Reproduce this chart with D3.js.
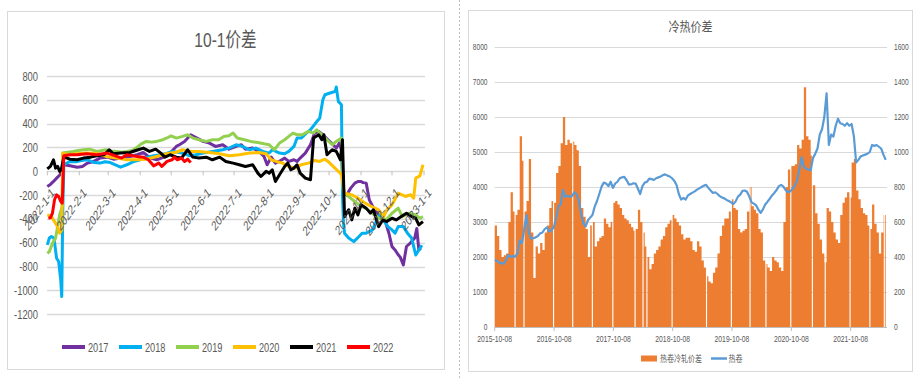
<!DOCTYPE html>
<html><head><meta charset="utf-8">
<script src="https://cdn.jsdelivr.net/npm/d3@7"></script>
<style>
body{margin:0;background:#fff}
svg{display:block}
text{font-family:"Liberation Sans","Noto Sans CJK SC",sans-serif;fill:#595959}
</style>
</head><body>
<svg id="c" width="920" height="380"></svg>
<script>
// ---------------- LEFT CHART DATA (10-1价差) ----------------
// [day offset from 2022-01-01, value]
const leftTitle = "10-1价差";
const years = ["2017","2018","2019","2020","2021","2022"];
const leftYTicks = [800,600,400,200,0,-200,-400,-600,-800,-1000,-1200];
const s2017 = [[0,-128],[3,-110],[6,-85],[10,-49],[12,-30],[13.5,-15],[15,40],[16,55],[22,46],[29,35],[34,41],[39,69],[45,83],[51,111],[58,119],[64,102],[72,111],[80,125],[87,139],[93,158],[100,111],[106,97],[113,119],[119,153],[125,209],[128,223],[133,251],[139,307],[145,279],[151,251],[157,237],[163,209],[170,223],[176,186],[183,209],[188,223],[192,186],[199,195],[205,167],[210,125],[213,55],[217,119],[221,69],[226,91],[230,111],[234,83],[239,97],[242,83],[245,111],[250,153],[255,223],[259,321],[263,335],[267,307],[272,265],[277,223],[280,195],[283,237],[285,181],[287,-180],[290,-200],[294,-141],[298,-99],[301,-85],[304,-85],[306,-95],[309,-99],[312,-240],[317,-323],[323,-380],[328,-436],[331,-520],[334,-632],[337,-660],[340,-700],[342,-720],[345,-786],[348,-631],[352,-600],[356,-560],[358,-480],[360,-660],[362,-645]];
const s2018 = [[0,-617],[2,-560],[4,-547],[6.5,-561],[9,-729],[11,-757],[13,-911],[14,-1051],[15,-323],[16,55],[22,83],[28,80],[33,91],[39,97],[45,74],[51,69],[56,80],[61,74],[66,55],[71,35],[77,55],[84,83],[90,97],[97,119],[103,130],[110,139],[116,153],[121,167],[128,158],[134,145],[138,130],[144,139],[151,153],[160,167],[170,181],[176,195],[183,223],[189,209],[196,181],[202,195],[209,167],[215,153],[218,181],[225,153],[230,147],[234,167],[239,209],[242,279],[246,279],[251,321],[255,349],[260,405],[264,447],[267,601],[269,643],[274,657],[279,671],[280,707],[282,587],[285,559],[286,-200],[287,-435],[288,-519],[292,-560],[297,-590],[302,-547],[305,-520],[309,-519],[315,-492],[318,-435],[321,-380],[324,-352],[327,-422],[330,-464],[334,-492],[337,-519],[340,-464],[345,-464],[349,-519],[353,-560],[357,-702],[360,-660],[363,-620]];
const s2019 = [[0,-687],[2,-674],[5,-603],[8,-561],[10,-463],[12,-365],[14.5,-296],[15,153],[20,160],[25,167],[30,175],[35,181],[41,186],[48,167],[53,175],[57,181],[62,170],[67,167],[72,160],[77,167],[82,175],[86,195],[91,230],[96,251],[101,245],[106,251],[112,265],[116,280],[120,298],[125,279],[131,293],[136,307],[141,279],[147,265],[154,251],[160,265],[166,265],[171,293],[176,298],[180,321],[184,279],[191,265],[197,251],[204,242],[210,231],[215,223],[220,181],[225,237],[230,265],[234,293],[238,321],[242,307],[247,307],[253,335],[258,321],[261,349],[266,307],[271,265],[276,223],[280,251],[285,279],[286.5,-150],[288,-183],[292,-211],[296,-240],[302,-282],[308,-309],[315,-352],[321,-394],[328,-408],[334,-352],[340,-309],[344,-380],[350,-352],[357,-366],[361,-394],[364,-380]];
const s2020 = [[0,-366],[4,-380],[7,-422],[10,-464],[12,-520],[14,-492],[15,153],[20,139],[28,147],[38,153],[48,150],[57,125],[67,111],[77,97],[86,97],[96,102],[106,125],[115,147],[125,160],[131,181],[138,167],[147,167],[157,158],[167,147],[176,130],[186,139],[196,153],[205,158],[212,147],[217,97],[222,83],[228,69],[234,41],[241,27],[246,55],[253,69],[259,91],[264,83],[269,102],[272,83],[277,41],[282,0],[285,-29],[288,-183],[295,-197],[301,-225],[308,-267],[314,-295],[321,-323],[326,-380],[329,-323],[334,-281],[340,-183],[347,-211],[352,-197],[355,-225],[357,-57],[361,-38],[364,55]];
const s2021 = [[0,20],[3,41],[6,97],[8,27],[10,41],[12,0],[13.5,13],[16,119],[22,102],[29,97],[35,111],[42,119],[48,130],[55,139],[60,181],[64,147],[71,153],[80,158],[88,181],[93,195],[99,167],[105,186],[110,153],[114,119],[119,139],[125,119],[130,111],[136,181],[141,119],[147,111],[154,119],[160,97],[167,119],[173,83],[180,69],[186,55],[192,41],[199,55],[204,-15],[207,-43],[212,0],[215,-15],[218,13],[221,-85],[225,-29],[230,41],[233,69],[236,13],[239,27],[242,55],[245,-15],[250,-57],[255,-71],[258,279],[263,307],[266,265],[268,307],[271,139],[276,181],[280,167],[284,97],[286,265],[288,-380],[292,-323],[295,-408],[298,-309],[301,-366],[304,-281],[309,-309],[313,-351],[316,-323],[321,-464],[325,-408],[329,-422],[334,-394],[338,-408],[343,-380],[348,-352],[353,-380],[357,-394],[360,-450],[364,-422]];
const s2022 = [[1,-393],[3,-390],[5,-351],[7,-239],[9,-197],[11,-211],[13,-253],[14.5,-267],[16,130],[22,139],[29,139],[38,147],[48,139],[58,153],[66,130],[72,111],[77,139],[87,125],[93,119],[98,97],[103,46],[108,69],[111,41],[116,83],[121,97],[123,119],[126,97],[130,111],[133,83],[136,102],[139,74]];
const leftSeries = [s2017,s2018,s2019,s2020,s2021,s2022];

// ---------------- RIGHT CHART DATA (冷热价差) ----------------
const rightTitle = "冷热价差";
const rightLegend = ["热卷冷轧价差","热卷"];
const spreadStart = "2015-10-08";   // first sample, one sample every 14 days
const spreadEnd = "2022-05-20";
const spreadValues = [
2900,2600,2200,2000,2050,2100,3000,3850,3300,3200,
3350,5450,4750,3300,3600,4800,2700,1400,2300,2100,
2400,2200,2700,2900,3400,3600,3550,4400,4600,5250,
6000,5200,5350,5250,5300,5200,5050,4600,3400,3150,
2800,2000,2900,3000,2300,2450,2550,2600,3100,2950,
2850,3000,3550,3600,3500,3400,3200,3100,3050,2950,
2850,2750,2800,3350,3000,2700,2300,2000,1650,1800,
2100,2200,2300,2500,2600,2850,2950,3050,3200,3100,
3000,2900,2650,2500,2550,2550,2450,2200,2150,2450,
2300,1900,1700,1450,1300,1250,1550,1700,2100,2600,
2900,3100,3100,3300,3650,3400,3350,2800,2700,2750,
2800,3300,4000,3450,3350,3250,2800,2700,1900,1800,
1700,1600,2000,1900,1850,1700,1600,3000,4000,4500,
4600,4600,4650,5200,5100,5350,6850,5450,5350,4900,
4050,3250,2950,2500,2100,1850,3400,3300,3000,2700,
2500,2400,3200,3550,3700,3850,3700,4700,4800,3900,
3650,3400,3250,3200,2900,2800,3500,2950,2700,2100,
2700,3200,3600];
const hotCoilValues = [
383,378,368,364,362,385,411,400,405,402,
421,495,480,560,640,540,505,507,512,520,
535,540,560,570,545,554,570,620,688,700,
783,745,750,745,748,770,760,720,650,592,
575,610,625,640,688,720,760,802,825,820,
805,830,795,820,830,850,855,858,840,815,
815,821,820,790,760,805,825,830,848,845,
840,850,855,860,868,872,865,860,850,835,
811,760,728,738,728,752,760,768,775,785,
792,800,808,812,795,780,766,770,760,748,
740,735,726,720,712,703,718,745,756,778,
780,773,745,712,705,695,670,652,672,700,
716,733,752,766,783,805,812,802,782,770,
775,790,808,835,900,970,915,905,900,895,
965,990,1020,1100,1130,1200,1335,1040,1100,1088,
1150,1190,1164,1160,1150,1165,1150,1160,1090,940,
955,975,980,985,990,1000,1040,1035,1040,1030,
1020,985,955];
const holidays = ["2016-02-07","2016-04-02","2016-10-01","2017-01-27","2017-05-28","2017-10-01","2018-02-15","2018-04-05","2018-04-29","2018-10-01","2019-05-01","2019-10-01","2020-01-24","2020-05-01","2020-10-01","2021-02-11","2021-05-01","2021-10-01","2022-01-31","2022-04-30"];
const rightLeftTicks = [0,1000,2000,3000,4000,5000,6000,7000,8000];
const rightRightTicks = [0,200,400,600,800,1000,1200,1400,1600];
const rightXTicks = ["2015-10-08","2016-10-08","2017-10-08","2018-10-08","2019-10-08","2020-10-08","2021-10-08"];

// ---------------- STYLES ----------------
const lineColors = ["#7030A0","#00B0F0","#92D050","#FFC000","#000000","#FF0000"];
const barColor = "#ED7D31", coilColor = "#5B9BD5", gridColor = "#D9D9D9";

const svg = d3.select("#c");
svg.append("rect").attr("width",920).attr("height",380).attr("fill","#fff");

function sqText(g, x, y, txt, size, sx, anchor, rot){
  return g.append("text")
    .attr("transform", `translate(${x},${y}) scale(${sx},1)` + (rot ? ` rotate(${rot})` : ""))
    .attr("text-anchor", anchor).style("font-size", size + "px").text(txt);
}

// ===== LEFT PANEL =====
const L = svg.append("g");
L.append("rect").attr("x",7.5).attr("y",11.5).attr("width",437).attr("height",358)
  .attr("fill","#fff").attr("stroke","#D9D9D9");
sqText(L, 225.5, 47, leftTitle, 20, 0.78, "middle");

const base = new Date(2022,0,1);
const toDate = d => new Date(base.getTime() + d*864e5);
const xL = d3.scaleTime().domain([base, new Date(2023,0,1)]).range([47.3, 424]);
const yL = d3.scaleLinear().domain([-1200,800]).range([314.3, 76]);

L.append("g").selectAll("line").data(leftYTicks).join("line")
  .attr("x1",47).attr("x2",425).attr("y1",d=>Math.round(yL(d))+0.5).attr("y2",d=>Math.round(yL(d))+0.5)
  .attr("stroke",gridColor).attr("stroke-width",1.3);
leftYTicks.forEach(v => sqText(L, 38, yL(v)+4.5, String(v), 12.5, 0.75, "end"));

const months = d3.timeMonth.range(base, new Date(2023,0,2));
const y0 = yL(0);
L.append("g").selectAll("line").data(months).join("line")
  .attr("x1",d=>xL(d)).attr("x2",d=>xL(d)).attr("y1",y0).attr("y2",y0+4)
  .attr("stroke","#BFBFBF");
const fmtL = d3.timeFormat("%Y-%-m-%-d");

const lineL = d3.line().x(d=>xL(toDate(d[0]))).y(d=>yL(d[1]));
leftSeries.forEach((s,i) => {
  L.append("path").attr("d", lineL(s)).attr("fill","none")
   .attr("stroke", lineColors[i]).attr("stroke-width",3).attr("stroke-linejoin","round");
});
months.forEach(m => sqText(L, xL(m)+8, y0+22, fmtL(m), 13.5, 0.7, "end", -45));

years.forEach((yr,i) => {
  const x0 = 62 + 57*i;
  L.append("line").attr("x1",x0).attr("x2",x0+23).attr("y1",347).attr("y2",347)
   .attr("stroke",lineColors[i]).attr("stroke-width",4);
  sqText(L, x0+26, 352, yr, 13.5, 0.68, "start");
});

// divider
svg.append("line").attr("x1",459.5).attr("x2",459.5).attr("y1",0).attr("y2",380)
  .attr("stroke","#BFBFBF").attr("stroke-dasharray","2,2");

// ===== RIGHT PANEL =====
const R = svg.append("g");
R.append("rect").attr("x",468.5).attr("y",10.5).attr("width",444).attr("height",361)
  .attr("fill","#fff").attr("stroke","#D9D9D9");
sqText(R, 690.5, 30.5, rightTitle, 13, 0.85, "middle");

const parse = d3.timeParse("%Y-%m-%d");
const start = parse(spreadStart), end = parse(spreadEnd);
const xR = d3.scaleTime().domain([start, end]).range([494.7, 887]);
const yRl = d3.scaleLinear().domain([0,8000]).range([327, 47]);
const yRr = d3.scaleLinear().domain([0,1600]).range([327, 47]);

R.append("g").selectAll("line").data(rightLeftTicks.slice(1)).join("line")
  .attr("x1",494.7).attr("x2",887).attr("y1",d=>Math.round(yRl(d))+0.5).attr("y2",d=>Math.round(yRl(d))+0.5)
  .attr("stroke",gridColor).attr("stroke-width",1.2);

// bars (contiguous columns, drawn as one stepped shape)
const samples = spreadValues.map((v,i)=>({date:d3.timeDay.offset(start, i*14), v}));
const hot = hotCoilValues.map((v,i)=>({date:d3.timeDay.offset(start, i*14), v}));
const valueAt = d => { let r = samples[0].v; samples.forEach(p => { if (p.date <= d) r = p.v; }); return r; };
let entries = samples.slice();
holidays.forEach(h => {
  const hd = parse(h), he = d3.timeDay.offset(hd, 7);
  const after = valueAt(he);
  entries = entries.filter(p => !(p.date > hd && p.date <= he));
  entries.push({date:hd, v:0}, {date:he, v:after});
});
entries.sort((a,b)=>a.date-b.date);
R.append("path")
  .attr("d", d3.area().curve(d3.curveStepAfter).x(d=>xR(d.date)).y0(yRl(0)).y1(d=>yRl(d.v))(entries))
  .attr("fill", barColor);

// axis line + ticks
R.append("line").attr("x1",494.7).attr("x2",887).attr("y1",327.5).attr("y2",327.5).attr("stroke","#BFBFBF");
const xt = rightXTicks.map(parse);
R.append("g").selectAll("line").data(xt).join("line")
  .attr("x1",d=>xR(d)).attr("x2",d=>xR(d)).attr("y1",327).attr("y2",331).attr("stroke","#BFBFBF");
xt.forEach((d,i) => sqText(R, xR(d), 342, rightXTicks[i], 8.5, 0.8, "middle"));
rightLeftTicks.forEach(v => sqText(R, 487.5, yRl(v)+3, String(v), 8.5, 0.78, "end"));
rightRightTicks.forEach(v => sqText(R, 894, yRr(v)+3, String(v), 8.5, 0.78, "start"));

// hot coil line
R.append("path").attr("d", d3.line().x(d=>xR(d.date)).y(d=>yRr(d.v))(hot))
  .attr("fill","none").attr("stroke",coilColor).attr("stroke-width",2.2).attr("stroke-linejoin","round");

// legend
R.append("rect").attr("x",641).attr("y",355.5).attr("width",16).attr("height",6).attr("fill",barColor);
sqText(R, 660, 362, rightLegend[0], 9, 0.78, "start");
R.append("line").attr("x1",711).attr("x2",727).attr("y1",358.5).attr("y2",358.5).attr("stroke",coilColor).attr("stroke-width",2.5);
sqText(R, 728.5, 362, rightLegend[1], 9, 0.78, "start");
</script>
</body></html>
